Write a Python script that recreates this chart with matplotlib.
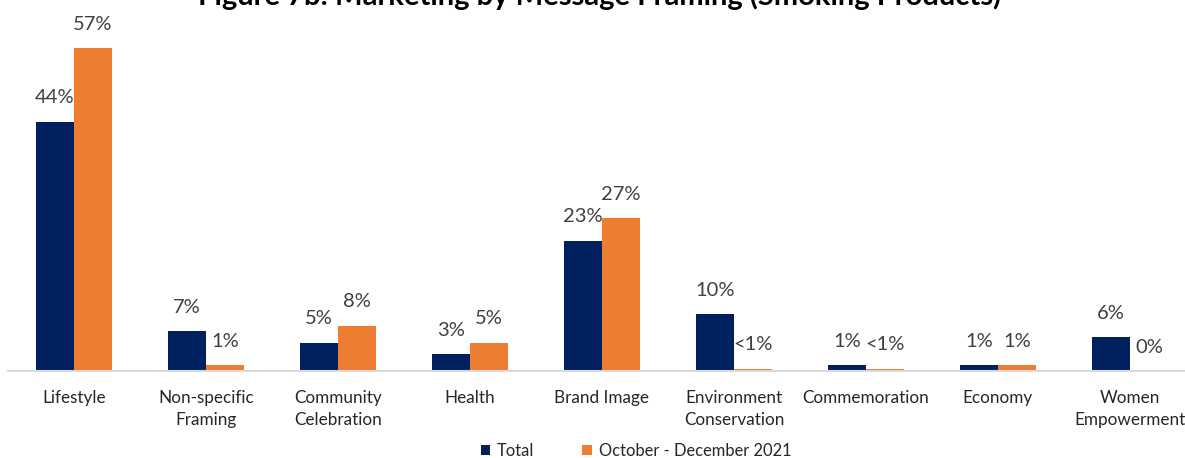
import matplotlib
matplotlib.use("Agg")
import matplotlib.pyplot as plt
import numpy as np

# message framing categories and shares (%)
categories = ["Lifestyle", "Non-specific\nFraming", "Community\nCelebration", "Health",
              "Brand Image", "Environment\nConservation", "Commemoration", "Economy",
              "Women\nEmpowerment"]
total = [44, 7, 5, 3, 23, 10, 1, 1, 6]
oct_dec_2021 = [57, 1, 8, 5, 27, 0.4, 0.4, 1, 0]
series_names = ["Total", "October - December 2021"]

navy = "#002060"
orange = "#ED7D31"
label_col = "#404040"

plt.rcParams["font.family"] = ["Lato", "DejaVu Sans"]

W, H = 1185, 458
fig = plt.figure(figsize=(W / 100, H / 100), dpi=100)
# plot area runs a little past the right edge of the figure
ax = fig.add_axes([8 / W, (H - 371) / H, 1188 / W, 340 / H])

x = np.arange(len(categories))
bw = 0.288
b1 = ax.bar(x - bw / 2, total, bw, color=navy, label=series_names[0])
b2 = ax.bar(x + bw / 2, oct_dec_2021, bw, color=orange, label=series_names[1])


def pct(v):
    if 0 < v < 1:
        return "<1%"
    return f"{v:.0f}%"


for bars, vals in ((b1, total), (b2, oct_dec_2021)):
    for rect, v in zip(bars, vals):
        ax.annotate(pct(v), (rect.get_x() + rect.get_width() / 2, rect.get_height()),
                    xytext=(0, 11), textcoords="offset points", ha="center", va="bottom",
                    fontsize=14.5, color=label_col)

ax.set_xlim(-0.5, len(categories) - 0.5)
ax.set_ylim(0, 60)
ax.set_xticks(x)
ax.set_xticklabels(categories, fontsize=12.3, color="#262626", linespacing=1.4)
ax.tick_params(axis="x", length=0, pad=14)
ax.set_yticks([])
for s in ("top", "right", "left"):
    ax.spines[s].set_visible(False)
ax.spines["bottom"].set_color("#d9d9d9")
ax.spines["bottom"].set_linewidth(1.5)

fig.legend(handles=[b1, b2], loc="center", bbox_to_anchor=(636 / W, 1 - 451 / H),
           ncol=2, frameon=False, fontsize=11.9, handlelength=0.6, handleheight=0.6,
           columnspacing=2.9, handletextpad=0.4, labelcolor="#262626")

fig.text(600 / W, 1 - 5 / H, "Figure 7b: Marketing by Message Framing (Smoking Products)",
         ha="center", va="baseline", fontsize=21, fontweight="bold", color="black")

fig.savefig("out.png", dpi=100)
